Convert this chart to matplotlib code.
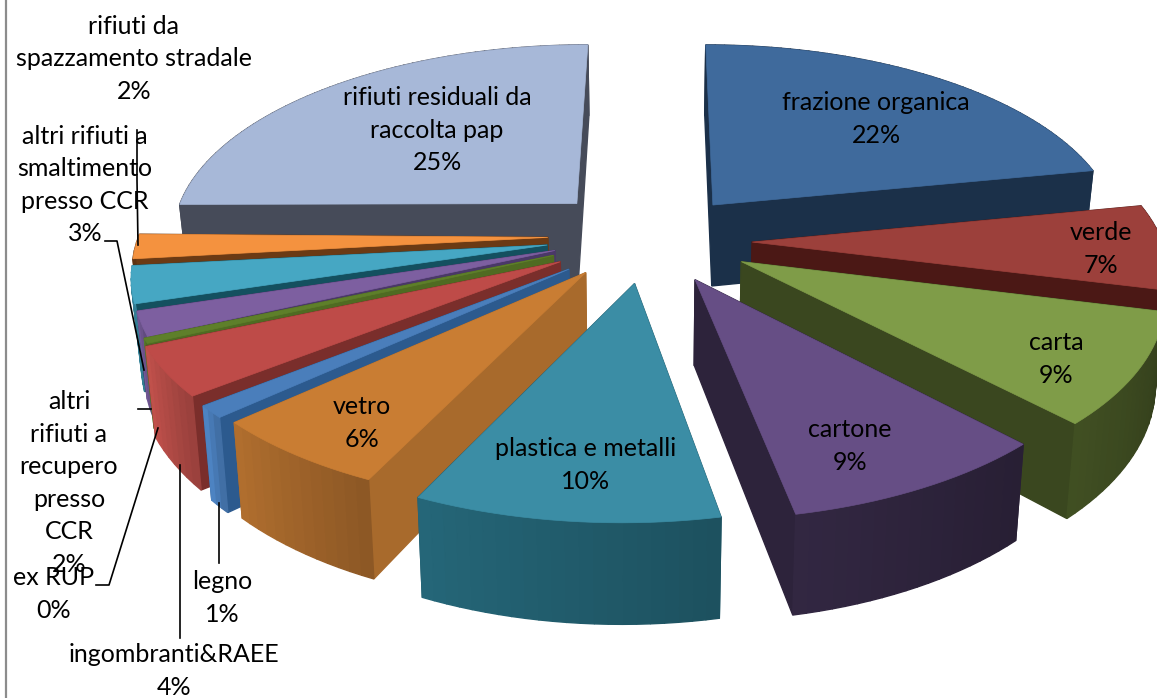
import matplotlib
matplotlib.use('Agg')
import matplotlib.pyplot as plt
import numpy as np

# values of the slices, clockwise from north
names = ['frazione organica', 'verde', 'carta', 'cartone', 'plastica e metalli', 'vetro', 'legno',
         'ingombranti&RAEE', 'ex RUP', 'altri rifiuti a recupero presso CCR',
         'altri rifiuti a smaltimento presso CCR', 'rifiuti da spazzamento stradale',
         'rifiuti residuali da raccolta pap']
values = [22, 7, 9, 9, 10, 6, 1, 4, 0.4, 2, 3, 2, 25]
top_colors = ['#3F6A9C', '#9C403B', '#7F9C48', '#664E85', '#3B8DA5', '#C97D33', '#4A7EBB',
              '#BE4B48', '#5E7F2A', '#7D5FA0', '#46A7C3', '#F4923F', '#A7B8D8']
side_colors = ['#1B3049', '#4B1815', '#3A471F', '#2D233B', '#1F5868', '#A86A2C', '#2C5A8E',
               '#7A2E2B', '#4F6B22', '#4A3868', '#14505F', '#6B3A14', '#464B59']
arc_colors = ['#1B3049', '#4B1815', '#3A471F', '#2D233B', '#215C6C', '#A0642A', '#4A7EBB',
              '#B04A45', '#56782A', '#6E5590', '#3A8EA6', '#6B3A14', '#464B59']
# pixel shifts of each slice (dx, dy), and extra shift of its inner corner
nudges = [(17, 0), (22, 4), (22, 3), (6, 2), (-6, -2), (-7, -9), (-7, -6),
          (-10, -9), (-4, -6), (1, -4), (0, -4), (0, -4), (2, -2)]
apex_shift = [(0, 0), (0, 0), (0, 0), (6, 2), (11, 5), (6, 9), (4, 9),
              (7, 10), (0, 6), (-1, 2), (-4, 3), (-2, 2), (-3, -2)]

plt.rcParams['font.family'] = ['Lato', 'DejaVu Sans']

# projection of the tilted pie
cx, cy = 640, 237
rx, ry = 410, 193
k = 0.15
explode = 0.22
height = 83
lean = 0.02


def project(X, Y, z=0.0):
    s = 1.0 / (1.0 + k * Y)
    x = cx + rx * X * s
    return x + (cx - x) * lean * z, cy - ry * Y * s + height * z * s


def shade(color, f):
    rgb = np.array(matplotlib.colors.to_rgb(color)) * f
    return tuple(np.clip(rgb, 0, 1))


fig = plt.figure(figsize=(11.57, 6.98), dpi=100, facecolor='w')
ax = fig.add_axes([0, 0, 1, 1])
ax.set_xlim(0, 1157)
ax.set_ylim(698, 0)
ax.axis('off')

fracs = np.array(values) / np.sum(values)
ends = np.cumsum(fracs) * 2 * np.pi
starts = ends - fracs * 2 * np.pi
mids = (starts + ends) / 2

# back slices first
order = np.argsort(-np.cos(mids))
z = 2
for i in order:
    ox = explode * np.sin(mids[i])
    oy = explode * np.cos(mids[i])
    dx, dy = nudges[i]
    t = np.linspace(starts[i], ends[i], max(int(fracs[i] * 240), 4))
    rim = [(ox + np.sin(a), oy + np.cos(a)) for a in t]
    apex = (ox, oy)


    def place(p, w):
        # screen position of a top (w=0) or bottom (w=1) corner
        x, y = project(p[0], p[1], w)
        if p is apex:
            return x + dx + apex_shift[i][0], y + dy + apex_shift[i][1]
        return x + dx, y + dy


    # walls, furthest first
    walls = [(apex, rim[0], side_colors[i]), (apex, rim[-1], side_colors[i])]
    n = len(rim) - 1
    for j in range(n):
        f = 1.12 - 0.24 * (1 - j / n)
        walls.append((rim[j], rim[j + 1], shade(arc_colors[i], f)))
    walls.sort(key=lambda w: -(w[0][1] + w[1][1]))
    for p0, p1, col in walls:
        corners = [place(p0, 0), place(p1, 0), place(p1, 1), place(p0, 1)]
        ax.fill([c[0] for c in corners], [c[1] for c in corners], color=col, lw=1.0, zorder=z)
        z += 1

    pts = [place(p, 0) for p in [apex] + rim]
    ax.fill([p[0] for p in pts], [p[1] for p in pts], color=top_colors[i], lw=0.5, zorder=z)
    z += 1

# frame of the chart area
ax.plot([5.5, 5.5], [0, 698], color='#8c8c8c', lw=1.6, zorder=z)

# leader lines
leaders = [([137, 137, 138], [130, 180, 245]),
           ([105, 117, 144], [241, 241, 370]),
           ([138, 151], [409, 409]),
           ([96, 109, 158], [585, 585, 428]),
           ([180, 180], [465, 638]),
           ([219, 219], [503, 563])]
for lx, ly in leaders:
    ax.plot(lx, ly, color='black', lw=1.2, zorder=z + 1)

labels = [('frazione organica\n22%', 876, 119),
          ('verde\n7%', 1101, 249),
          ('carta\n9%', 1056, 359),
          ('cartone\n9%', 850, 446),
          ('plastica e metalli\n10%', 586, 465),
          ('vetro\n6%', 362, 423),
          ('legno\n1%', 222, 598),
          ('ingombranti&RAEE\n4%', 174, 671),
          ('ex RUP\n0%', 54, 594),
          ('altri\nrifiuti a\nrecupero\npresso\nCCR\n2%', 69, 483),
          ('altri rifiuti a\nsmaltimento\npresso CCR\n3%', 85, 185),
          ('rifiuti da\nspazzamento stradale\n2%', 134, 59),
          ('rifiuti residuali da\nraccolta pap\n25%', 437, 130)]
for s, x, y in labels:
    ax.text(x, y, s, ha='center', va='center', fontsize=18, color='black',
            linespacing=1.5, zorder=z + 2)

fig.savefig('out.png', dpi=100)
